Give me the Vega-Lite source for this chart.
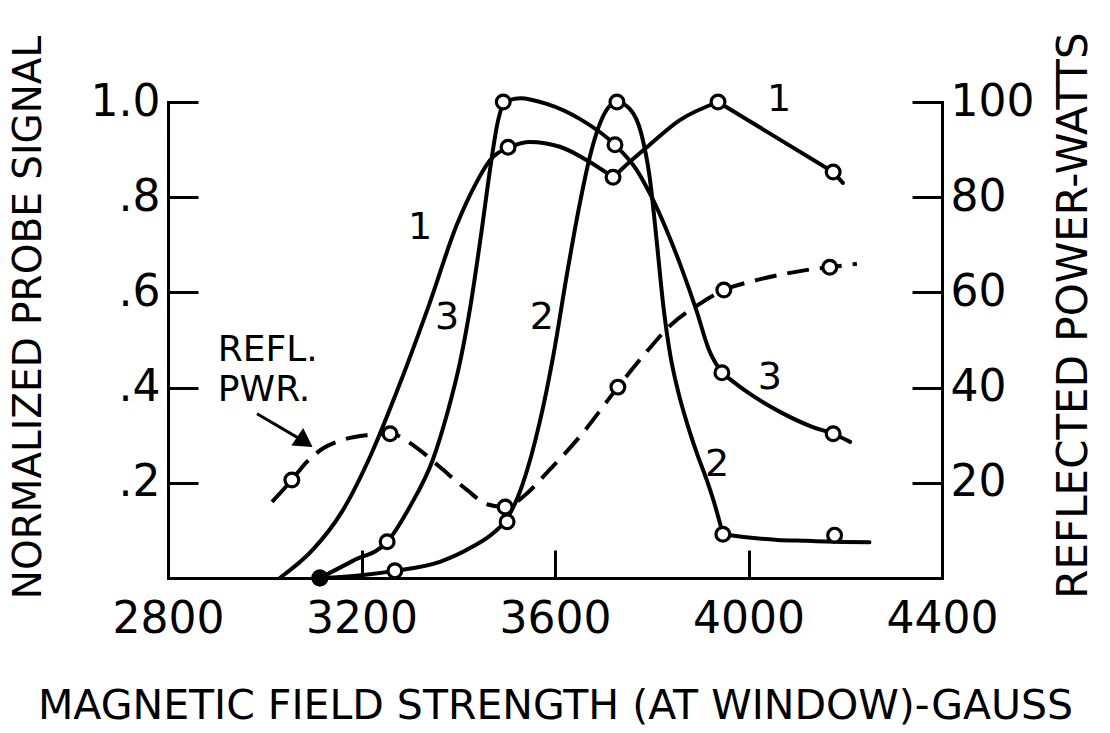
{
 "$schema": "https://vega.github.io/schema/vega-lite/v6.json",
 "width": 774, "height": 476,
 "autosize": {"type": "none"},
 "padding": {"left": 168, "top": 102, "right": 168, "bottom": 155},
 "background": "white",
 "config": {
  "view": {"stroke": null},
  "font": "DejaVu Sans",
  "axis": {"domainColor": "black", "domainWidth": 3, "domainCap": "square", "tickColor": "black", "tickWidth": 3, "grid": false,
   "labelColor": "black", "labelFont": "DejaVu Sans", "labelFontSize": 44, "titleFont": "DejaVu Sans", "titleFontSize": 39,
   "titleFontWeight": "normal", "titleColor": "black", "labelFlush": false, "labelOverlap": false}
 },
 "datasets": {
  "curves": [
   {"seg": "1a", "gauss": 3031, "value": 0}, {"seg": "1a", "gauss": 3100, "value": 0.06}, {"seg": "1a", "gauss": 3160, "value": 0.14},
   {"seg": "1a", "gauss": 3220, "value": 0.26}, {"seg": "1a", "gauss": 3280, "value": 0.41}, {"seg": "1a", "gauss": 3340, "value": 0.575},
   {"seg": "1a", "gauss": 3397, "value": 0.742}, {"seg": "1a", "gauss": 3435, "value": 0.826},
   {"seg": "1a", "gauss": 3466, "value": 0.878}, {"seg": "1a", "gauss": 3503, "value": 0.905},
   {"seg": "1b", "gauss": 3503, "value": 0.905}, {"seg": "1b", "gauss": 3548, "value": 0.916}, {"seg": "1b", "gauss": 3610, "value": 0.906},
   {"seg": "1b", "gauss": 3672, "value": 0.874}, {"seg": "1b", "gauss": 3720, "value": 0.842},
   {"seg": "1c", "gauss": 3720, "value": 0.842}, {"seg": "1c", "gauss": 3740, "value": 0.861}, {"seg": "1c", "gauss": 3790, "value": 0.905},
   {"seg": "1c", "gauss": 3858, "value": 0.962}, {"seg": "1c", "gauss": 3937, "value": 1.0},
   {"seg": "1d", "gauss": 3937, "value": 1.0}, {"seg": "1d", "gauss": 4175, "value": 0.853}, {"seg": "1d", "gauss": 4195, "value": 0.83},
   {"seg": "2a", "gauss": 3114, "value": 0}, {"seg": "2a", "gauss": 3200, "value": 0.006}, {"seg": "2a", "gauss": 3269, "value": 0.015},
   {"seg": "2a", "gauss": 3362, "value": 0.034}, {"seg": "2a", "gauss": 3430, "value": 0.066}, {"seg": "2a", "gauss": 3472, "value": 0.094},
   {"seg": "2a", "gauss": 3501, "value": 0.125}, {"seg": "2a", "gauss": 3534, "value": 0.2}, {"seg": "2a", "gauss": 3569, "value": 0.33},
   {"seg": "2a", "gauss": 3597, "value": 0.47}, {"seg": "2a", "gauss": 3625, "value": 0.64},
   {"seg": "2a", "gauss": 3650, "value": 0.78}, {"seg": "2a", "gauss": 3672, "value": 0.885}, {"seg": "2a", "gauss": 3695, "value": 0.96},
   {"seg": "2a", "gauss": 3728, "value": 1.0}, {"seg": "2a", "gauss": 3755, "value": 0.985},
   {"seg": "2a", "gauss": 3778, "value": 0.935}, {"seg": "2a", "gauss": 3796, "value": 0.84},
   {"seg": "2a", "gauss": 3811, "value": 0.7}, {"seg": "2a", "gauss": 3823, "value": 0.58},
   {"seg": "2a", "gauss": 3838, "value": 0.47}, {"seg": "2a", "gauss": 3855, "value": 0.39}, {"seg": "2a", "gauss": 3873, "value": 0.325},
   {"seg": "2a", "gauss": 3893, "value": 0.263}, {"seg": "2a", "gauss": 3914, "value": 0.205}, {"seg": "2a", "gauss": 3930, "value": 0.155},
   {"seg": "2a", "gauss": 3947, "value": 0.092},
   {"seg": "2b", "gauss": 3947, "value": 0.092}, {"seg": "2b", "gauss": 4000, "value": 0.085}, {"seg": "2b", "gauss": 4060, "value": 0.08},
   {"seg": "2b", "gauss": 4120, "value": 0.078}, {"seg": "2b", "gauss": 4180, "value": 0.076}, {"seg": "2b", "gauss": 4250, "value": 0.075},
   {"seg": "3a", "gauss": 3114, "value": 0}, {"seg": "3a", "gauss": 3182, "value": 0.036}, {"seg": "3a", "gauss": 3253, "value": 0.076},
   {"seg": "3a", "gauss": 3300, "value": 0.15}, {"seg": "3a", "gauss": 3348, "value": 0.25},
   {"seg": "3a", "gauss": 3377, "value": 0.345}, {"seg": "3a", "gauss": 3404, "value": 0.455}, {"seg": "3a", "gauss": 3425, "value": 0.57},
   {"seg": "3a", "gauss": 3447, "value": 0.72}, {"seg": "3a", "gauss": 3466, "value": 0.86},
   {"seg": "3a", "gauss": 3480, "value": 0.95}, {"seg": "3a", "gauss": 3493, "value": 1.0},
   {"seg": "3b", "gauss": 3493, "value": 1.0}, {"seg": "3b", "gauss": 3528, "value": 1.008}, {"seg": "3b", "gauss": 3583, "value": 0.996},
   {"seg": "3b", "gauss": 3652, "value": 0.964}, {"seg": "3b", "gauss": 3724, "value": 0.91},
   {"seg": "3b", "gauss": 3769, "value": 0.857}, {"seg": "3b", "gauss": 3800, "value": 0.8}, {"seg": "3b", "gauss": 3831, "value": 0.73},
   {"seg": "3b", "gauss": 3862, "value": 0.65}, {"seg": "3b", "gauss": 3893, "value": 0.56}, {"seg": "3b", "gauss": 3918, "value": 0.48},
   {"seg": "3b", "gauss": 3945, "value": 0.431},
   {"seg": "3c", "gauss": 3945, "value": 0.431}, {"seg": "3c", "gauss": 3997, "value": 0.391}, {"seg": "3c", "gauss": 4065, "value": 0.349},
   {"seg": "3c", "gauss": 4133, "value": 0.317}, {"seg": "3c", "gauss": 4175, "value": 0.303}, {"seg": "3c", "gauss": 4210, "value": 0.286}
  ],
  "markers": [
   {"curve": "1", "gauss": 3503, "value": 0.905}, {"curve": "1", "gauss": 3720, "value": 0.842}, {"curve": "1", "gauss": 3937, "value": 1.0}, {"curve": "1", "gauss": 4175, "value": 0.853},
   {"curve": "2", "gauss": 3114, "value": 0}, {"curve": "2", "gauss": 3269, "value": 0.015}, {"curve": "2", "gauss": 3501, "value": 0.118}, {"curve": "2", "gauss": 3728, "value": 1.0},
   {"curve": "2", "gauss": 3947, "value": 0.092}, {"curve": "2", "gauss": 4178, "value": 0.09},
   {"curve": "3", "gauss": 3114, "value": 0}, {"curve": "3", "gauss": 3253, "value": 0.076}, {"curve": "3", "gauss": 3493, "value": 1.0}, {"curve": "3", "gauss": 3724, "value": 0.91},
   {"curve": "3", "gauss": 3945, "value": 0.431}, {"curve": "3", "gauss": 4175, "value": 0.303}
  ],
  "refl": [
   {"gauss": 3015, "watts": 16}, {"gauss": 3056, "watts": 20.6}, {"gauss": 3085, "watts": 24.2}, {"gauss": 3120, "watts": 27.2}, {"gauss": 3160, "watts": 29.0},
   {"gauss": 3210, "watts": 30.0}, {"gauss": 3259, "watts": 30.3}, {"gauss": 3315, "watts": 27.3}, {"gauss": 3362, "watts": 23.3}, {"gauss": 3418, "watts": 18.5},
   {"gauss": 3459, "watts": 15.5}, {"gauss": 3497, "watts": 14.9}, {"gauss": 3540, "watts": 17.6}, {"gauss": 3583, "watts": 22.1}, {"gauss": 3652, "watts": 29.8},
   {"gauss": 3730, "watts": 40.1}, {"gauss": 3790, "watts": 47.6}, {"gauss": 3840, "watts": 53.2}, {"gauss": 3893, "watts": 57.2}, {"gauss": 3949, "watts": 60.5},
   {"gauss": 4010, "watts": 62.4}, {"gauss": 4075, "watts": 63.9}, {"gauss": 4133, "watts": 64.9}, {"gauss": 4168, "watts": 65.3}, {"gauss": 4224, "watts": 66}
  ],
  "reflmarkers": [
   {"gauss": 3056, "watts": 20.6}, {"gauss": 3259, "watts": 30.3}, {"gauss": 3497, "watts": 14.9}, {"gauss": 3730, "watts": 40.1}, {"gauss": 3949, "watts": 60.5}, {"gauss": 4168, "watts": 65.3}
  ],
  "labels": [
   {"label": "1", "gauss": 3321, "value": 0.735}, {"label": "3", "gauss": 3377, "value": 0.546}, {"label": "2", "gauss": 3573, "value": 0.546},
   {"label": "1", "gauss": 4063, "value": 1.004}, {"label": "3", "gauss": 4044, "value": 0.42}, {"label": "2", "gauss": 3935, "value": 0.237}
  ],
  "notes": [
   {"label": "REFL.", "gauss": 2903, "value": 0.479}, {"label": "PWR.", "gauss": 2903, "value": 0.395}
  ],
  "arrow": [
   {"gauss": 2984, "value": 0.345, "gauss_end": 3083, "value_end": 0.286}
  ]
 },
 "layer": [
  {"layer": [
   {"data": {"name": "curves"},
    "transform": [{"filter": "datum.seg != '1d'"}],
    "mark": {"type": "line", "interpolate": "monotone", "stroke": "black", "strokeWidth": 4, "strokeCap": "round", "strokeJoin": "round"},
    "encoding": {
     "x": {"field": "gauss", "type": "quantitative", "scale": {"domain": [2800, 4400], "nice": false},
      "axis": {"values": [2800, 3200, 3600, 4000, 4400], "format": "d", "tickSize": -28, "labelPadding": 47,
       "title": "MAGNETIC FIELD STRENGTH (AT WINDOW)-GAUSS", "titleX": 387, "titleY": 140, "titleBaseline": "alphabetic", "titleAlign": "center", "titleFontSize": 41}},
     "y": {"field": "value", "type": "quantitative", "scale": {"domain": [0, 1], "nice": false},
      "axis": {"orient": "left", "values": [0.2, 0.4, 0.6, 0.8, 1], "labelExpr": "datum.value >= 1 ? '1.0' : '.' + round(datum.value*10)",
       "tickSize": -30, "labelPadding": 38, "title": "NORMALIZED PROBE SIGNAL", "titleX": -140, "titleY": 215, "titleAngle": -90,
       "titleBaseline": "middle", "titleAlign": "center"}},
     "detail": {"field": "seg"}
    }},
   {"data": {"name": "curves"},
    "transform": [{"filter": "datum.seg == '1d'"}],
    "mark": {"type": "line", "interpolate": "linear", "stroke": "black", "strokeWidth": 4, "strokeCap": "round", "strokeJoin": "round"},
    "encoding": {
     "x": {"field": "gauss", "type": "quantitative", "scale": {"domain": [2800, 4400], "nice": false}},
     "y": {"field": "value", "type": "quantitative", "scale": {"domain": [0, 1], "nice": false}},
     "detail": {"field": "seg"}
    }},
   {"data": {"name": "arrow"},
    "mark": {"type": "rule", "stroke": "black", "strokeWidth": 3},
    "encoding": {
     "x": {"field": "gauss", "type": "quantitative", "scale": {"domain": [2800, 4400], "nice": false}},
     "y": {"field": "value", "type": "quantitative", "scale": {"domain": [0, 1], "nice": false}},
     "x2": {"field": "gauss_end"}, "y2": {"field": "value_end"}
    }},
   {"data": {"name": "arrow"},
    "mark": {"type": "point", "shape": "triangle-right", "filled": true, "fill": "black", "size": 450, "angle": 34, "strokeWidth": 0, "opacity": 1},
    "encoding": {
     "x": {"field": "gauss_end", "type": "quantitative", "scale": {"domain": [2800, 4400], "nice": false}},
     "y": {"field": "value_end", "type": "quantitative", "scale": {"domain": [0, 1], "nice": false}}
    }},
   {"data": {"name": "markers"},
    "mark": {"type": "point", "shape": "circle", "filled": true, "stroke": "black", "strokeWidth": 3.2, "size": 190, "opacity": 1},
    "encoding": {
     "x": {"field": "gauss", "type": "quantitative", "scale": {"domain": [2800, 4400], "nice": false}},
     "y": {"field": "value", "type": "quantitative", "scale": {"domain": [0, 1], "nice": false}},
     "fill": {"condition": {"test": "datum.value == 0", "value": "black"}, "value": "white"}
    }},
   {"data": {"name": "labels"},
    "mark": {"type": "text", "fontSize": 38, "align": "center", "baseline": "middle", "fill": "black", "font": "DejaVu Sans"},
    "encoding": {
     "x": {"field": "gauss", "type": "quantitative", "scale": {"domain": [2800, 4400], "nice": false}},
     "y": {"field": "value", "type": "quantitative", "scale": {"domain": [0, 1], "nice": false}},
     "text": {"field": "label"}
    }},
   {"data": {"name": "notes"},
    "mark": {"type": "text", "fontSize": 36, "align": "left", "baseline": "middle", "fill": "black", "font": "DejaVu Sans"},
    "encoding": {
     "x": {"field": "gauss", "type": "quantitative", "scale": {"domain": [2800, 4400], "nice": false}},
     "y": {"field": "value", "type": "quantitative", "scale": {"domain": [0, 1], "nice": false}},
     "text": {"field": "label"}
    }}
  ]},
  {"layer": [
   {"data": {"name": "refl"},
    "mark": {"type": "line", "interpolate": "monotone", "stroke": "black", "strokeWidth": 4, "strokeDash": [22, 11]},
    "encoding": {
     "x": {"field": "gauss", "type": "quantitative", "scale": {"domain": [2800, 4400], "nice": false}},
     "y": {"field": "watts", "type": "quantitative", "scale": {"domain": [0, 100], "nice": false},
      "axis": {"orient": "right", "values": [20, 40, 60, 80, 100], "tickSize": -30, "labelPadding": 38,
       "title": "REFLECTED POWER-WATTS", "titleX": 131, "titleY": 213, "titleAngle": -90, "titleBaseline": "middle", "titleAlign": "center", "titleFontSize": 42}}
    }},
   {"data": {"name": "reflmarkers"},
    "mark": {"type": "point", "shape": "circle", "filled": true, "fill": "white", "stroke": "black", "strokeWidth": 3.2, "size": 190, "opacity": 1},
    "encoding": {
     "x": {"field": "gauss", "type": "quantitative", "scale": {"domain": [2800, 4400], "nice": false}},
     "y": {"field": "watts", "type": "quantitative", "scale": {"domain": [0, 100], "nice": false}}
    }}
  ]}
 ],
 "resolve": {"scale": {"y": "independent"}}
}
